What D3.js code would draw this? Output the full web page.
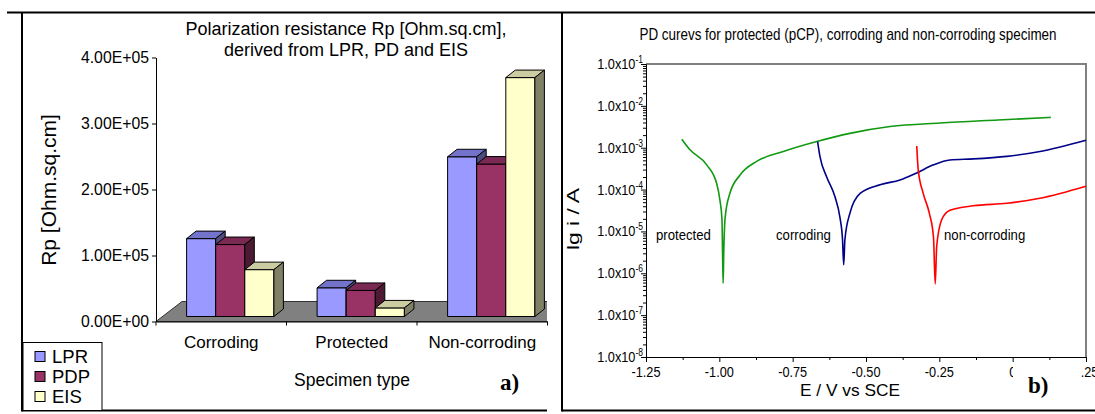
<!DOCTYPE html>
<html>
<head>
<meta charset="utf-8">
<script src="https://cdn.jsdelivr.net/npm/d3@7"></script>
<style>
  body { margin: 0; background: #fff; }
  svg { display: block; font-family: Arial, "Liberation Sans", sans-serif; }
</style>
</head>
<body>
<svg id="chart" width="1095" height="414"></svg>
<script>
'use strict';

// ---- panel a) : polarization resistance ----
var specimens = ['Corroding', 'Protected', 'Non-corroding'];
var methods = ['LPR', 'PDP', 'EIS'];
var lprValues = [1.18e5, 0.435e5, 2.42e5];
var pdpValues = [1.09e5, 0.395e5, 2.31e5];
var eisValues = [0.71e5, 0.13e5, 3.62e5];
var rpTicks = [0, 1e5, 2e5, 3e5, 4e5];

// ---- panel b) : PD curves, E in V vs SCE, i in A ----
var protectedE = [-1.128, -1.100, -1.043, -1.009, -0.998, -0.991, -0.989, -0.987, -0.985, -0.980, -0.964, -0.930, -0.873, -0.782, -0.668, -0.555, -0.418, -0.248, -0.050, 0.130];
var protectedI = [1.6e-3, 8.9e-4, 3.9e-4, 1.4e-4, 5.6e-5, 1.9e-5, 3.0e-6, 5.8e-7, 3.0e-6, 2.2e-5, 8.1e-5, 2.2e-4, 4.7e-4, 8.1e-4, 1.4e-3, 2.2e-3, 3.2e-3, 3.9e-3, 4.6e-3, 5.3e-3];
var corrodingE = [-0.665, -0.657, -0.634, -0.606, -0.589, -0.580, -0.576, -0.572, -0.555, -0.520, -0.452, -0.384, -0.327, -0.270, -0.214, -0.134, -0.020, 0.093, 0.250];
var corrodingI = [1.4e-3, 6.2e-4, 2.0e-4, 6.8e-5, 2.2e-5, 6.3e-6, 1.6e-6, 6.3e-6, 2.7e-5, 8.1e-5, 1.3e-4, 1.7e-4, 2.5e-4, 3.9e-4, 5.1e-4, 5.4e-4, 6.2e-4, 8.1e-4, 1.5e-3];
var nonCorrodingE = [-0.327, -0.322, -0.305, -0.284, -0.270, -0.264, -0.259, -0.242, -0.214, -0.134, -0.020, 0.093, 0.250];
var nonCorrodingI = [1.1e-3, 3.0e-4, 8.1e-5, 2.7e-5, 7.4e-6, 5.6e-7, 4.4e-6, 1.9e-5, 3.2e-5, 4.1e-5, 4.7e-5, 6.2e-5, 1.2e-4];
var potentialTicks = [-1.25, -1.00, -0.75, -0.50, -0.25, 0, 0.25];
var potentialLabels = ['-1.25', '-1.00', '-0.75', '-0.50', '-0.25', '0', '0.25'];
var currentTicks = [1e-8, 1e-7, 1e-6, 1e-5, 1e-4, 1e-3, 1e-2, 1e-1];

var svg = d3.select('#chart');

// frame lines round both panels
var frame = svg.append('g').attr('stroke', '#000').attr('fill', 'none').attr('stroke-width', 2);
frame.append('path').attr('d', 'M7,12.5H1095');
frame.append('path').attr('d', 'M22,12V411.5');
frame.append('path').attr('d', 'M22,410.5H547');
frame.append('path').attr('d', 'M562,12V411.5');
frame.append('path').attr('d', 'M562,410.5H1095');

drawPanelA();
drawPanelB();

function drawPanelA() {
  svg.append('clipPath').attr('id', 'clipA')
    .append('rect').attr('x', 23).attr('y', 14).attr('width', 524).attr('height', 395);

  var g = svg.append('g');
  var plot = g.append('g').attr('clip-path', 'url(#clipA)');

  var x0 = d3.scaleBand().domain(specimens).range([156, 547.5]);
  var xm = d3.scaleBand().domain(methods).range([0, 87.3]);
  var y = d3.scaleLinear().domain([0, 4e5]).range([321.5, 57.5]);

  var floorDepth = { dx: 26, dy: -20 };
  var barShift = { dx: 9, dy: -5 };
  var depth = { dx: 9.5, dy: -7.5 };
  var colors = {
    LPR: ['#9999ff', '#7373cc', '#4d4d80'],
    PDP: ['#993366', '#7a2952', '#4d1a33'],
    EIS: ['#ffffcc', '#cccca3', '#808066']
  };
  var series = { LPR: lprValues, PDP: pdpValues, EIS: eisValues };

  // floor
  var fx0 = x0.range()[0], fx1 = x0.range()[1] + 1, fy = y(0);
  plot.append('path')
    .attr('d', 'M' + fx0 + ',' + fy + 'L' + fx1 + ',' + fy +
      'L' + (fx1 + floorDepth.dx) + ',' + (fy + floorDepth.dy) +
      'L' + (fx0 + floorDepth.dx) + ',' + (fy + floorDepth.dy) + 'Z')
    .attr('fill', '#808080').attr('stroke', '#333').attr('stroke-width', 1);

  // columns, left to right so each front hides the previous side
  specimens.forEach(function (spec, ci) {
    methods.forEach(function (m) {
      var v = series[m][ci];
      var w = xm.bandwidth();
      var left = x0(spec) + x0.bandwidth() / 2 - 43.65 + barShift.dx + xm(m);
      var top = y(v) + barShift.dy;
      var bottom = y(0) + barShift.dy;
      var bar = plot.append('g').attr('stroke', '#000').attr('stroke-width', 1).attr('stroke-linejoin', 'round');
      bar.append('rect').attr('x', left).attr('y', top).attr('width', w).attr('height', bottom - top)
        .attr('fill', colors[m][0]);
      bar.append('path')
        .attr('d', 'M' + left + ',' + top + 'L' + (left + w) + ',' + top +
          'L' + (left + w + depth.dx) + ',' + (top + depth.dy) +
          'L' + (left + depth.dx) + ',' + (top + depth.dy) + 'Z')
        .attr('fill', colors[m][1]);
      bar.append('path')
        .attr('d', 'M' + (left + w) + ',' + top + 'L' + (left + w + depth.dx) + ',' + (top + depth.dy) +
          'L' + (left + w + depth.dx) + ',' + (bottom + depth.dy) + 'L' + (left + w) + ',' + bottom + 'Z')
        .attr('fill', colors[m][2]);
    });
  });

  // value axis
  var yAxis = d3.axisLeft(y).tickValues(rpTicks).tickSize(4).tickSizeOuter(0).tickFormat(sciLabel);
  var ya = g.append('g').attr('transform', 'translate(156,0)').call(yAxis);
  ya.select('.domain').attr('stroke', '#000');
  ya.selectAll('.tick line').attr('stroke', '#000');
  ya.selectAll('.tick text').attr('font-size', 15.8).attr('fill', '#000').attr('font-family', 'Arial, "Liberation Sans", sans-serif').attr('x', -7);

  // category axis
  var xAxis = d3.axisBottom(x0).tickSize(0).tickSizeOuter(0).tickFormat('');
  var xa = g.append('g').attr('transform', 'translate(0,' + y(0) + ')').call(xAxis);
  xa.select('.domain').attr('stroke', '#000');
  var edges = specimens.map(function (s) { return x0(s); }).concat([x0.range()[1]]);
  xa.selectAll('.edge').data(edges).enter().append('line').attr('class', 'edge')
    .attr('x1', function (d) { return d; }).attr('x2', function (d) { return d; })
    .attr('y1', 0).attr('y2', 4).attr('stroke', '#000');
  g.selectAll('.cat').data(specimens).enter().append('text').attr('class', 'cat')
    .attr('x', function (d) { return x0(d) + x0.bandwidth() / 2; })
    .attr('y', 348).attr('text-anchor', 'middle').attr('font-size', 17)
    .text(function (d) { return d; });

  // titles
  g.append('text').attr('x', 346).attr('y', 35).attr('text-anchor', 'middle').attr('font-size', 18)
    .text('Polarization resistance Rp [Ohm.sq.cm],');
  g.append('text').attr('x', 346).attr('y', 56).attr('text-anchor', 'middle').attr('font-size', 18)
    .text('derived from LPR, PD and EIS');
  g.append('text').attr('transform', 'translate(56,190) rotate(-90)').attr('text-anchor', 'middle')
    .attr('font-size', 21).text('Rp [Ohm.sq.cm]');
  g.append('text').attr('x', 352).attr('y', 386).attr('text-anchor', 'middle').attr('font-size', 17.5)
    .text('Specimen type');
  g.append('text').attr('x', 500).attr('y', 390).attr('font-size', 23).attr('font-weight', 'bold')
    .attr('font-family', '"Times New Roman", "Liberation Serif", serif').text('a)');

  // legend
  var leg = g.append('g');
  leg.append('rect').attr('x', 23).attr('y', 342.5).attr('width', 79).attr('height', 68)
    .attr('fill', '#fff').attr('stroke', '#000').attr('stroke-width', 1);
  var li = leg.selectAll('.li').data(methods).enter().append('g').attr('class', 'li')
    .attr('transform', function (d, i) { return 'translate(0,' + (i * 20) + ')'; });
  li.append('rect').attr('x', 35).attr('y', 351.5).attr('width', 10).attr('height', 10)
    .attr('fill', function (d) { return colors[d][0]; }).attr('stroke', '#000');
  li.append('text').attr('x', 52).attr('y', 363).attr('font-size', 18.5).text(function (d) { return d; });
}

function sciLabel(v) {
  if (v === 0) return '0.00E+00';
  var e = Math.floor(Math.log10(v));
  var m = v / Math.pow(10, e);
  return m.toFixed(2) + 'E+' + (e < 10 ? '0' : '') + e;
}

function drawPanelB() {
  var g = svg.append('g');
  var x = d3.scaleLinear().domain([-1.25, 0.25]).range([646, 1086]);
  var y = d3.scaleLog().domain([1e-8, 1e-1]).range([357, 64]);
  var narrow = 0.85;

  // plot box, grey on top and right
  g.append('path')
    .attr('d', 'M' + x.range()[0] + ',' + y.range()[1] + 'H' + x.range()[1] + 'V' + y.range()[0])
    .attr('fill', 'none').attr('stroke', '#808080').attr('stroke-width', 2);

  // curves
  var line = d3.line()
    .x(function (d) { return x(d[0]); })
    .y(function (d) { return y(d[1]); })
    .curve(d3.curveMonotoneX);
  var curves = [
    { e: protectedE, i: protectedI, color: '#119911' },
    { e: corrodingE, i: corrodingI, color: '#000088' },
    { e: nonCorrodingE, i: nonCorrodingI, color: '#ff0000' }
  ];
  curves.forEach(function (c) {
    g.append('path').datum(d3.zip(c.e, c.i)).attr('d', line)
      .attr('fill', 'none').attr('stroke', c.color).attr('stroke-width', 1.6);
  });

  // y axis with log minor ticks
  var minor = y.ticks().filter(function (t) { return currentTicks.indexOf(t) < 0; });
  var yMinor = d3.axisLeft(y).tickValues(minor).tickSize(3).tickSizeOuter(0).tickFormat('');
  var yMajor = d3.axisLeft(y).tickValues(currentTicks).tickSize(5).tickSizeOuter(0).tickFormat('');
  var yAxisG = g.append('g').attr('transform', 'translate(646,0)');
  yAxisG.append('g').call(yMinor);
  yAxisG.append('g').call(yMajor);
  yAxisG.selectAll('path, line').attr('stroke', '#000');

  // x axis
  var minorX = potentialTicks.slice(1).map(function (t) { return t - 0.125; });
  var xMinor = d3.axisBottom(x).tickValues(minorX).tickSize(3).tickSizeOuter(0).tickFormat('');
  var xMajor = d3.axisBottom(x).tickValues(potentialTicks).tickSize(5).tickSizeOuter(0).tickFormat('');
  var xAxisG = g.append('g').attr('transform', 'translate(0,357)');
  xAxisG.append('g').call(xMinor);
  xAxisG.append('g').call(xMajor);
  xAxisG.selectAll('path, line').attr('stroke', '#000');

  // tick labels, a narrow face
  currentTicks.forEach(function (t) {
    var ex = Math.round(Math.log10(t));
    var tx = g.append('text')
      .attr('transform', 'translate(643,' + (y(t) + 5) + ') scale(' + narrow + ',1)')
      .attr('text-anchor', 'end').attr('font-size', 15);
    tx.append('tspan').text('1.0x10');
    tx.append('tspan').attr('font-size', 10).attr('dy', -6).text(String(ex));
  });
  potentialTicks.forEach(function (t, k) {
    narrowText(g, x(t), 377, potentialLabels[k], 15, 'middle', narrow);
  });

  // titles and curve names
  narrowText(g, 848, 40, 'PD curevs for protected (pCP), corroding and non-corroding specimen', 15.8, 'middle', narrow);
  g.append('text').attr('x', 850).attr('y', 396).attr('text-anchor', 'middle').attr('font-size', 17)
    .attr('textLength', 100).attr('lengthAdjust', 'spacingAndGlyphs').text('E / V vs SCE');
  g.append('text').attr('transform', 'translate(579,219) rotate(-90)')
    .attr('text-anchor', 'middle').attr('font-size', 17)
    .attr('textLength', 62).attr('lengthAdjust', 'spacingAndGlyphs').text('lg i / A');
  narrowText(g, 656, 240, 'protected', 15.5, 'start', narrow);
  narrowText(g, 776, 240, 'corroding', 15.5, 'start', narrow);
  narrowText(g, 944, 240, 'non-corroding', 15.5, 'start', narrow);

  // panel label sits on a white box over the last tick labels
  g.append('rect').attr('x', 1013).attr('y', 363).attr('width', 68).attr('height', 42).attr('fill', '#fff');
  g.append('text').attr('x', 1028).attr('y', 393).attr('font-size', 23).attr('font-weight', 'bold')
    .attr('font-family', '"Times New Roman", "Liberation Serif", serif').text('b)');
}

function narrowText(g, x, y, str, size, anchor, sx) {
  return g.append('text')
    .attr('transform', 'translate(' + x + ',' + y + ') scale(' + sx + ',1)')
    .attr('text-anchor', anchor).attr('font-size', size).attr('fill', '#000')
    .text(str);
}
</script>
</body>
</html>
